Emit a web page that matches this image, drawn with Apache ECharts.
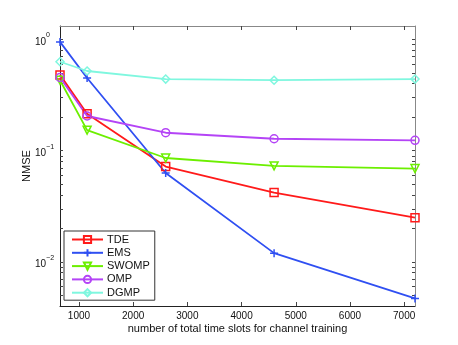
<!DOCTYPE html>
<html>
<head>
<meta charset="utf-8">
<script src="https://cdn.jsdelivr.net/npm/echarts@6/dist/echarts.min.js"></script>
<style>
  html, body { margin: 0; padding: 0; background: #fff; }
  #main { width: 458px; height: 345px; }
</style>
</head>
<body>
<div id="main"></div>
<script>
// time slots used for channel training
const slots = [650, 1150, 2600, 4600, 7200];

// NMSE per method
const tde   = [0.48, 0.215, 0.072, 0.042, 0.025];
const ems   = [0.95, 0.45, 0.063, 0.012, 0.0047];
const swomp = [0.43, 0.153, 0.086, 0.073, 0.069];
const omp   = [0.455, 0.205, 0.145, 0.128, 0.124];
const dgmp  = [0.63, 0.52, 0.44, 0.43, 0.44];

const xTicks = [1000, 2000, 3000, 4000, 5000, 6000, 7000];
const yLabels = [0.01, 0.1, 1];
const yTicks = [0.005, 0.006, 0.007, 0.008, 0.009,
  0.01, 0.02, 0.03, 0.04, 0.05, 0.06, 0.07, 0.08, 0.09,
  0.1, 0.2, 0.3, 0.4, 0.5, 0.6, 0.7, 0.8, 0.9, 1];

const font = 'Liberation Sans';
const plus = 'path://M5,0L5,10M0,5L10,5';

function pairs(vals) {
  return slots.map(function (x, i) { return [x, vals[i]]; });
}

function mkSeries(name, vals, color, symbol, rotate) {
  return {
    name: name,
    type: 'line',
    data: pairs(vals),
    symbol: symbol,
    symbolSize: 8,
    symbolRotate: rotate || 0,
    lineStyle: { color: color, width: 1.8 },
    itemStyle: { color: 'transparent', borderColor: color, borderWidth: 1.5 },
    emphasis: { disabled: true },
    z: 3
  };
}

const myChart = echarts.init(document.getElementById('main'));

const myGrid = { left: 60, right: 43, top: 26, bottom: 39, containLabel: false };

const xBase = {
  type: 'value',
  min: 650,
  max: 7200,
  splitLine: { show: false },
  axisTick: { show: true, inside: true, length: 4, customValues: xTicks, lineStyle: { color: '#444', width: 1 } }
};

const myXAxis = [
  Object.assign({}, xBase, {
    position: 'bottom',
    name: 'number of total time slots for channel training',
    nameLocation: 'middle',
    nameGap: 17,
    nameMoveOverlap: false,
    nameTextStyle: { fontFamily: font, fontSize: 11, color: '#111' },
    axisLine: { lineStyle: { color: '#222', width: 1 } },
    axisLabel: {
      customValues: xTicks, margin: 5, fontFamily: font, fontSize: 10, color: '#111',
      formatter: function (v) { return String(v); }
    }
  }),
  Object.assign({}, xBase, {
    position: 'top',
    axisLine: { lineStyle: { color: '#888', width: 1 } },
    axisLabel: { show: false }
  })
];

const yBase = {
  type: 'log',
  logBase: 10,
  min: 0.00402,
  max: 1.32,
  splitLine: { show: false },
  minorTick: { show: false },
  axisTick: { show: true, inside: true, length: 3, customValues: yTicks, lineStyle: { color: '#444', width: 1 } }
};

const myYAxis = [
  Object.assign({}, yBase, {
    position: 'left',
    name: 'NMSE',
    nameLocation: 'middle',
    nameGap: 28,
    nameMoveOverlap: false,
    nameTextStyle: { fontFamily: font, fontSize: 11, color: '#111' },
    axisLine: { show: true, lineStyle: { color: '#222', width: 1 } },
    axisLabel: {
      customValues: yLabels,
      margin: 25,
      align: 'left',
      formatter: function (v) {
        const e = Math.round(Math.log10(v));
        return '{b|10}{s|' + (e < 0 ? '\u2212' + (-e) : e) + '}';
      },
      rich: {
        b: { fontFamily: font, fontSize: 10, color: '#111', lineHeight: 15, verticalAlign: 'bottom' },
        s: { fontFamily: font, fontSize: 7, color: '#111', lineHeight: 7, verticalAlign: 'top' }
      }
    }
  }),
  Object.assign({}, yBase, {
    position: 'right',
    axisLine: { show: true, lineStyle: { color: '#888', width: 1 } },
    axisLabel: { show: false }
  })
];

const mySeries = [
  mkSeries('TDE', tde, '#ff1a1a', 'rect'),
  mkSeries('EMS', ems, '#2f4ff2', plus),
  mkSeries('SWOMP', swomp, '#6cef00', 'triangle', 180),
  mkSeries('OMP', omp, '#b444f6', 'circle'),
  mkSeries('DGMP', dgmp, '#7ff7df', 'diamond')
];

myChart.setOption({
  animation: false,
  grid: myGrid,
  xAxis: myXAxis,
  yAxis: myYAxis,
  series: mySeries,
  legend: {
    orient: 'vertical',
    left: 64,
    top: 231,
    backgroundColor: '#fff',
    borderColor: '#333',
    borderWidth: 1,
    padding: [3, 5, 2, 7],
    itemWidth: 31,
    itemHeight: 9,
    itemGap: 2.3,
    textStyle: { fontFamily: font, fontSize: 11, color: '#111', padding: [0, 0, 0, -1] },
    data: ['TDE', 'EMS', 'SWOMP', 'OMP', 'DGMP']
  }
});
</script>
</body>
</html>
